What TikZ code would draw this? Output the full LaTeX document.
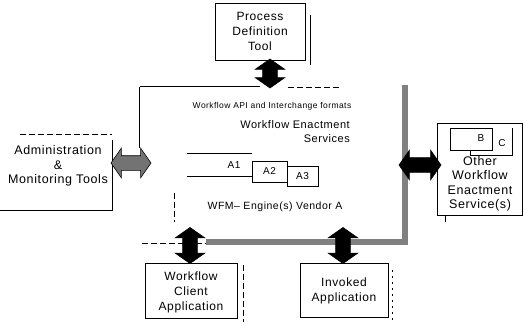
\documentclass[tikz,border=0pt]{standalone}
\usepackage{fontspec}
\setmainfont{Liberation Sans}[LetterSpace=5]
\usetikzlibrary{shapes.arrows}
\begin{document}
\begin{tikzpicture}[x=1pt,y=-1pt,
  box/.style={draw=black, line width=0.8pt, fill=white, inner sep=0pt},
  lbl/.style={inner sep=0pt, align=center, font=\fontsize{12}{15}\selectfont},
  biglbl/.style={inner sep=0pt, align=center, font=\fontsize{12.5}{14.5}\selectfont},
  darrow/.style={double arrow, draw=black, fill=black, inner xsep=0pt, inner ysep=7pt, line width=0.6pt,
    double arrow head extend=7.5pt, double arrow tip angle=110, minimum width=29pt},
  garrow/.style={darrow, fill=black!55},
  thickedge/.style={line width=5.5pt, draw=black!50},
  thinedge/.style={line width=0.8pt, draw=black},
  faint/.style={line width=0.6pt, draw=black, dashed, dash pattern=on 6pt off 3pt}
]
\useasboundingbox (0,0) rectangle (524,322);

% Process Definition Tool
\node[box, minimum width=90pt, minimum height=57pt] (pdt) at (260,31.5) {};
\node[lbl] (pdttext) at (pdt.center) {Process\\Definition\\Tool};
\draw[thinedge, line width=0.6pt] (310,15) -- (310,65);

% Workflow enactment services (big box)
\node[minimum width=265pt, minimum height=155pt, inner sep=0pt] (wes) at (272.5,164.5) {};
\draw[thinedge] (wes.north west) -- ++(0,61);
\draw[thinedge] (wes.north west) -- ++(120,0);
\draw[faint] ([xshift=148pt]wes.north west) -- ([xshift=200pt]wes.north west);
\draw[faint] (174,193) -- (174,222);
\draw[faint] ([xshift=2pt,yshift=-1pt]wes.south west) -- ([xshift=72pt,yshift=-1pt]wes.south west);
\draw[thickedge] ([xshift=66pt]wes.south west) -- (wes.south east) -- ([yshift=2pt]wes.north east);

\node[inner sep=0pt, font=\fontsize{8.5}{10}\selectfont] (api) at (272,106) {Workflow API and Interchange formats};
\node[inner sep=0pt, align=right, font=\fontsize{11}{14}\selectfont, anchor=north east] (westext) at (350,120) {Workflow Enactment\\Services};

% A boxes
\draw[thinedge] (187,153) -- (252,153);
\draw[thinedge] (187,176) -- (252,176);
\node[inner sep=0pt, font=\fontsize{10}{12}\selectfont] (a1) at (234,165) {A1};
\node[box, minimum width=35pt, minimum height=21pt, font=\fontsize{10}{12}\selectfont] (a2) at (269.5,171.5) {A2};
\node[box, minimum width=31pt, minimum height=20pt, font=\fontsize{10}{12}\selectfont] (a3) at (302.5,176) {A3};
\node[inner sep=0pt, font=\fontsize{10.5}{12}\selectfont] (wfm) at (275,207) {WFM– Engine(s) Vendor A};

% Administration & Monitoring Tools
\coordinate (admtl) at (20,134);
\coordinate (admtr) at (112,134);
\coordinate (admbr) at (112,210);
\coordinate (admbl) at (0,210);
\draw[faint] (admtl) -- (admtr);
\draw[thinedge] (112,140) -- (admbr) -- (admbl);
\node[biglbl] (adm) at (58,166) {Administration\\\&\\Monitoring Tools};

% Other Workflow Enactment Services
\node[box, minimum width=85pt, minimum height=92pt] (other) at (479.5,169) {};
\node[box, minimum width=42pt, minimum height=22pt] (bbox) at (471,139) {};
\node[inner sep=0pt, font=\fontsize{10}{12}\selectfont] (btext) at (481,138) {B};
\draw[thinedge] (470,150) -- (470,155) -- (512,155) -- (512,128);
\node[inner sep=0pt, font=\fontsize{10}{12}\selectfont] (ctext) at (502,143) {C};
\node[biglbl] (othertext) at (480,184) {Other\\Workflow\\Enactment\\Service(s)};
\draw[thinedge] (445,215) -- (445,222);

% Workflow Client Application
\node[box, minimum width=92pt, minimum height=55pt] (client) at (191,290.5) {};
\node[lbl] (clienttext) at (191,292) {Workflow\\Client\\Application};
\draw[faint] (243,265) -- (243,322);

% Invoked Application
\node[box, minimum width=88pt, minimum height=54pt] (invoked) at (344,290) {};
\node[lbl] (invokedtext) at (344,291) {Invoked\\Application};
\draw[faint, dash pattern=on 2pt off 4pt] (392,270) -- (392,322);

% arrows
\node[darrow, rotate=90, minimum height=29pt] (arrtop) at (270,73.5) {};
\node[garrow, minimum height=40pt] (arradm) at (131,163) {};
\node[darrow, minimum height=42pt] (arrright) at (420,165) {};
\node[darrow, rotate=90, minimum height=36pt] (arrclient) at (190,245.5) {};
\node[darrow, rotate=90, minimum height=36pt] (arrinv) at (343,245.5) {};
\end{tikzpicture}
\end{document}
